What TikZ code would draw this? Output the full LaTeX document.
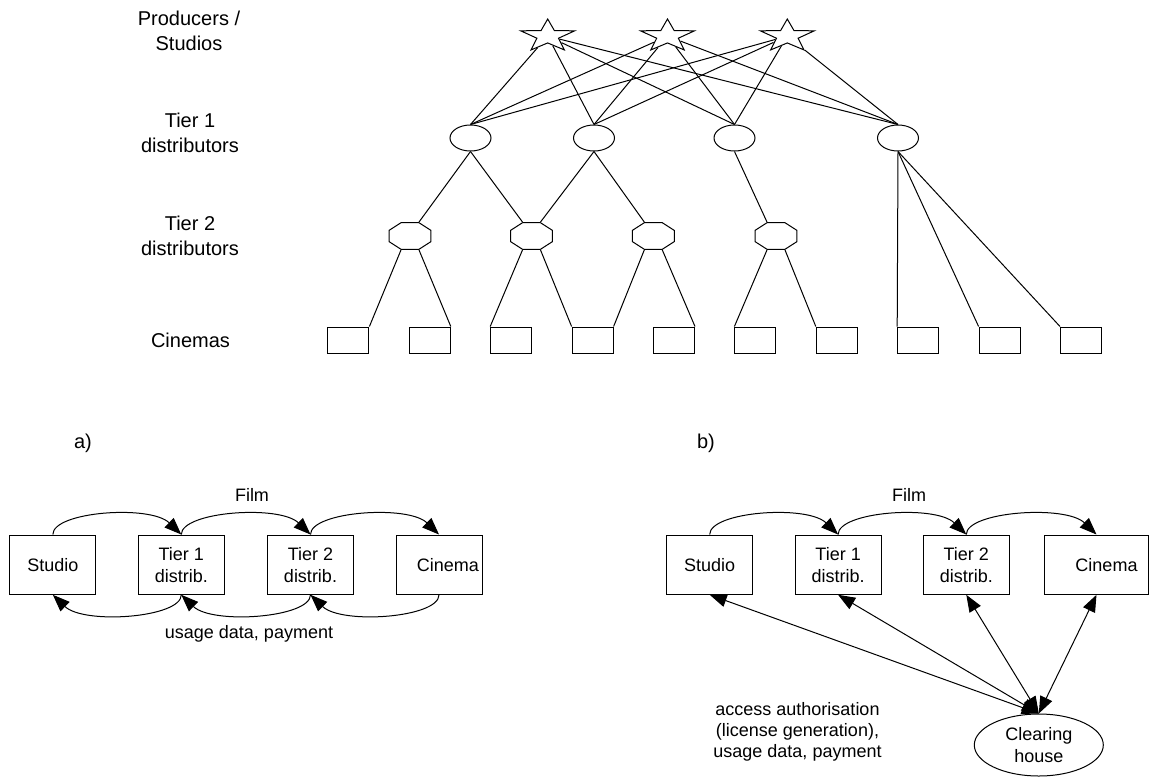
\documentclass[tikz,border=0pt]{standalone}
\usepackage{fontspec}
\setmainfont{Liberation Sans}
\usetikzlibrary{shapes.geometric,arrows.meta}
\begin{document}
\begin{tikzpicture}[x=1pt,y=-1pt, line width=1pt,
  lbl/.style={font=\fontsize{20}{25}\selectfont, align=center},
  txt/.style={font=\fontsize{18}{22}\selectfont, align=center},
  mystar/.style={star, star points=5, star point ratio=2.5, minimum size=34.2pt, inner sep=0pt, draw, fill=white, xscale=1.66, transform shape},
  oct/.style={regular polygon, regular polygon sides=8, minimum size=29.2pt, inner sep=0pt, draw, xscale=1.556, transform shape},
  ell/.style={ellipse, draw, minimum width=41pt, minimum height=26pt, inner sep=0pt},
  cin/.style={rectangle, draw, minimum width=41pt, minimum height=26pt, inner sep=0pt},
  box/.style={rectangle, draw, minimum width=86pt, minimum height=59.3pt, inner sep=0pt, txt},
  arr/.style={-{Triangle[length=17pt,width=13pt]}},
  darr/.style={{Triangle[length=17pt,width=13pt]}-{Triangle[length=17pt,width=13pt]}},
]
\useasboundingbox (0,0) rectangle (1149,777);

% ---------- top: distribution tree ----------
\node[lbl] (lp)  at (189,30.5)  {Producers /\\Studios};
\node[lbl] (lt1) at (190,132.5) {Tier 1\\distributors};
\node[lbl] (lt2) at (190,235.5) {Tier 2\\distributors};
\node[lbl] (lc)  at (190.5,340) {Cinemas};

\foreach \i/\x in {1/547.7,2/667.5,3/787.3}{
  \begin{scope}[shift={(\x,36.1)}]
    \node[mystar] (s\i) at (0,0) {};
  \end{scope}
}
\foreach \i/\x in {1/470.5,2/594,3/734.5,4/898}{
  \node[ell] (e\i) at (\x,138) {};
}
\foreach \i/\x in {1/410,2/531.5,3/653.3,4/776}{
  \begin{scope}[shift={(\x,236)}]
    \node[oct] (o\i) at (0,0) {};
  \end{scope}
}
\foreach \i in {1,...,10}{
  \node[cin] (c\i) at ({348.4+81.4*(\i-1)},340) {};
}

\foreach \s in {1,2,3}{
  \foreach \e in {1,2,3,4}{
    \draw (s\s) -- (e\e.north);
  }
}
% corner 1 = top right, corner 2 = top left, corner 5 = bottom left, corner 6 = bottom right
\draw (e1.south) -- (o1.corner 1);
\draw (e1.south) -- (o2.corner 2);
\draw (e2.south) -- (o2.corner 1);
\draw (e2.south) -- (o3.corner 2);
\draw (e3.south) -- (o4.corner 2);
\draw (o1.corner 5) -- (c1.north east);
\draw (o1.corner 6) -- (c2.north east);
\draw (o2.corner 5) -- (c3.north west);
\draw (o2.corner 6) -- (c4.north west);
\draw (o3.corner 5) -- (c4.north east);
\draw (o3.corner 6) -- (c5.north east);
\draw (o4.corner 5) -- (c6.north west);
\draw (o4.corner 6) -- (c7.north west);
\draw (e4.south) -- (c8.north west);
\draw (e4.south) -- (c9.north west);
\draw (e4.south) -- (c10.north west);

% ---------- a) ----------
\node[lbl] (la) at (83,443) {a)};
\node[box] (as) at (52.85,564.65) {Studio};
\node[box] (a1) at (181.3,564.65) {Tier 1\\distrib.};
\node[box] (a2) at (310.5,564.65) {Tier 2\\distrib.};
\node[box] (ac) at (439,564.65) {\hspace*{18pt}Cinema};
\node[txt] (fa) at (252,495) {Film};
\node[txt] (ua) at (249,634) {usage data, payment};

\draw[arr] (as.north) .. controls +(0,-23) and +(-31,-30) .. (a1.north);
\draw[arr] (a1.north) .. controls +(0,-23) and +(-31,-30) .. (a2.north);
\draw[arr] (a2.north) .. controls +(0,-23) and +(-31,-30) .. (ac.north);
\draw[arr] (a1.south) .. controls +(0,23) and +(31,30) .. (as.south);
\draw[arr] (a2.south) .. controls +(0,23) and +(31,30) .. (a1.south);
\draw[arr] (ac.south) .. controls +(0,23) and +(31,30) .. (a2.south);

% ---------- b) ----------
\node[lbl] (lb) at (706,443) {b)};
\node[box] (bs) at (709.7,564.65) {Studio};
\node[box] (b1) at (838.1,564.65) {Tier 1\\distrib.};
\node[box] (b2) at (966.3,564.65) {Tier 2\\distrib.};
\node[box, minimum width=104pt] (bc) at (1096.5,564.65) {\hspace*{20pt}Cinema};
\node[txt] (fb) at (909,495) {Film};

\draw[arr] (bs.north) .. controls +(0,-23) and +(-31,-30) .. (b1.north);
\draw[arr] (b1.north) .. controls +(0,-23) and +(-31,-30) .. (b2.north);
\draw[arr] (b2.north) .. controls +(0,-23) and +(-31,-30) .. (bc.north);

\node[ellipse, draw, minimum width=129pt, minimum height=62pt, inner sep=0pt, txt] (ch) at (1038.8,745) {Clearing\\house};
\node[txt, font=\fontsize{18}{21}\selectfont] (acc) at (797.5,732) {access authorisation\\(license generation),\\usage data, payment};

\draw[darr] (bs.south) -- (ch.north);
\draw[darr] (b1.south) -- (ch.north);
\draw[darr] (b2.south) -- (ch.north);
\draw[darr] (bc.south) -- (ch.north);
\end{tikzpicture}
\end{document}
